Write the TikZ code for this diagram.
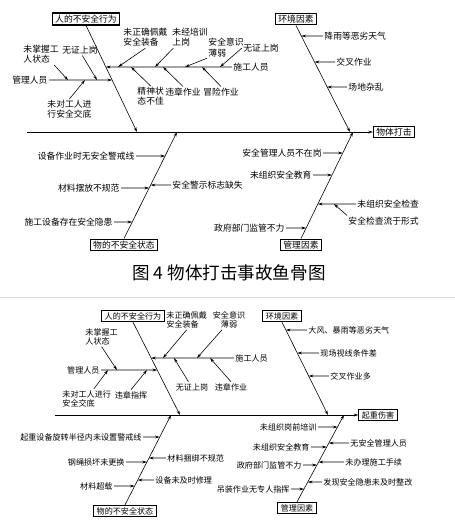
\documentclass[tikz,border=0pt]{standalone}
\usepackage{fontspec}
\setmainfont{Noto Sans CJK SC}
\usetikzlibrary{arrows.meta}

\begin{document}
\begin{tikzpicture}[x=0.03cm, y=-0.03cm, line width=0.5pt,
    font=\fontsize{7.5}{8.6}\selectfont,
    cause/.style={inner sep=1pt},
    multi/.style={inner sep=1pt, align=left},
    headbox/.style={draw, line width=0.9pt, inner xsep=2.5pt, inner ysep=1.6pt},
    arr/.style={-{Stealth[length=4pt, width=2.4pt]}}]
    \useasboundingbox (0,0) rectangle (455,525);

    % ---------- 图4 物体打击 ----------
    \node[headbox] (sp1) at (394,132) {物体打击};
    \coordinate (s1) at (27,132);
    \draw[arr] (s1) -- (sp1.west);

    \node[headbox] (hA) at (86,19) {人的不安全行为};
    \node[headbox] (hB) at (296,19) {环境因素};
    \node[headbox] (hC) at (124,245) {物的不安全状态};
    \node[headbox] (hD) at (301,245) {管理因素};
    \coordinate (bA) at (hA.south);
    \coordinate (bB) at (hB.south);
    \coordinate (bC) at (hC.north);
    \coordinate (bD) at (hD.north);
    \coordinate (eA) at (137,132);
    \coordinate (eB) at (350,132);
    \coordinate (eC) at (177,132);
    \coordinate (eD) at (353,132);
    \draw[arr] (bA) -- (eA);
    \draw[arr] (bB) -- (eB);
    \draw[arr] (bC) -- (eC);
    \draw[arr] (bD) -- (eD);

    % 人的不安全行为: 施工人员
    \node[cause, anchor=west] (sgA) at (232,67) {施工人员};
    \coordinate (jA1) at (intersection of bA--eA and 0,67--1,67);
    \draw[arr] (sgA.west) -- (jA1);
    \node[multi, anchor=north west] (a1) at (122,27) {未正确佩戴\\安全装备};
    \node[multi, anchor=north west] (a2) at (171,27) {未经培训\\上岗};
    \node[multi, anchor=north west] (a3) at (207,37) {安全意识\\薄弱};
    \node[cause] (a4) at (261,48) {无证上岗};
    \node[multi, anchor=north west] (a5) at (136,86) {精神状\\态不佳};
    \node[cause] (a6) at (183,92) {违章作业};
    \node[cause] (a7) at (221,92) {冒险作业};
    \coordinate (ta1) at (118,67);
    \coordinate (ta2) at (155,67);
    \coordinate (ta3) at (185,67);
    \coordinate (ta4) at (220,67);
    \coordinate (ta5) at (131,67);
    \coordinate (ta6) at (163,67);
    \coordinate (ta7) at (202,67);
    \draw[arr] (a1.south) -- (ta1);
    \draw[arr] ([xshift=2pt]a2.south west) -- (ta2);
    \draw[arr] (a3.south west) -- (ta3);
    \draw[arr] (a4.west) -- (ta4);
    \draw[arr] (a5.north) -- (ta5);
    \draw[arr] (a6.north) -- (ta6);
    \draw[arr] (a7.north) -- (ta7);

    % 人的不安全行为: 管理人员
    \node[cause, anchor=east] (mA) at (49,80) {管理人员};
    \coordinate (jA2) at (intersection of bA--eA and 0,80--1,80);
    \draw[arr] (mA.east) -- (jA2);
    \node[multi, anchor=north west] (c1) at (22,44) {未掌握工\\人状态};
    \node[cause] (c2) at (80,50) {无证上岗};
    \node[multi, anchor=north west] (c3) at (46,99) {未对工人进\\行安全交底};
    \coordinate (tc1) at (68,80);
    \coordinate (tc2) at (97,80);
    \coordinate (tc3) at (85,80);
    \draw[arr] ([xshift=-5pt]c1.south east) -- (tc1);
    \draw[arr] ([xshift=2pt]c2.south) -- (tc2);
    \draw[arr] (c3.north) -- (tc3);

    % 环境因素
    \foreach \n/\xx/\yy/\txt in {1/323/36/降雨等恶劣天气, 2/335/62/交叉作业, 3/347/87/场地杂乱}{
      \node[cause, anchor=west] (cB\n) at (\xx,\yy) {\txt};
      \coordinate (tB\n) at (intersection of bB--eB and 0,\yy--1,\yy);
      \draw[arr] (cB\n.west) -- (tB\n);
    }

    % 物的不安全状态
    \foreach \n/\xx/\yy/\txt in {1/136/156/设备作业时无安全警戒线, 2/121/188/材料摆放不规范, 3/114/222/施工设备存在安全隐患}{
      \node[cause, anchor=east] (cC\n) at (\xx,\yy) {\txt};
      \coordinate (tC\n) at (intersection of bC--eC and 0,\yy--1,\yy);
      \draw[arr] (cC\n.east) -- (tC\n);
    }
    \node[cause, anchor=west] (cC4) at (171,185) {安全警示标志缺失};
    \coordinate (tC4) at (intersection of bC--eC and 0,185--1,185);
    \draw[arr] (cC4.west) -- (tC4);

    % 管理因素
    \foreach \n/\xx/\yy/\txt in {1/323/153/安全管理人员不在岗, 2/313/175/未组织安全教育, 3/286/228/政府部门监管不力}{
      \node[cause, anchor=east] (cD\n) at (\xx,\yy) {\txt};
      \coordinate (tD\n) at (intersection of bD--eD and 0,\yy--1,\yy);
      \draw[arr] (cD\n.east) -- (tD\n);
    }
    \node[cause, anchor=west] (cD4) at (356,204) {未组织安全检查};
    \coordinate (tD4) at (intersection of bD--eD and 0,204--1,204);
    \draw[arr] (cD4.west) -- (tD4);
    \node[cause, anchor=west] (cD5) at (347,221) {安全检查流于形式};
    \coordinate (tD5) at (334,204);
    \draw[arr] (cD5.north west) -- (tD5);

    \node[font=\fontsize{15}{18}\selectfont] (cap) at (229,273) {图 4 物体打击事故鱼骨图};

    \draw[gray!30, line width=0.6pt] (0,297) -- (455,297);

    % ---------- 起重伤害 ----------
    \begin{scope}[font=\fontsize{6.9}{8}\selectfont]
    \node[headbox] (sp2) at (378,415) {起重伤害};
    \coordinate (s2) at (55,415);
    \draw[arr] (s2) -- (sp2.west);

    \node[headbox] (hE) at (133,316) {人的不安全行为};
    \node[headbox] (hF) at (282,316) {环境因素};
    \node[headbox] (hG) at (125,511) {物的不安全状态};
    \node[headbox] (hH) at (297,508) {管理因素};
    \coordinate (bE) at (hE.south);
    \coordinate (bF) at (hF.south);
    \coordinate (bG) at (hG.north);
    \coordinate (bH) at (hH.north);
    \coordinate (eE) at (180,415);
    \coordinate (eF) at (328,415);
    \coordinate (eG) at (171,415);
    \coordinate (eH) at (344,415);
    \draw[arr] (bE) -- (eE);
    \draw[arr] (bF) -- (eF);
    \draw[arr] (bG) -- (eG);
    \draw[arr] (bH) -- (eH);

    % 人的不安全行为: 施工人员
    \node[cause, anchor=west] (sgE) at (234,358) {施工人员};
    \coordinate (jE1) at (intersection of bE--eE and 0,358--1,358);
    \draw[arr] (sgE.west) -- (jE1);
    \node[multi, anchor=north west] (e1) at (165,310) {未正确佩戴\\安全装备};
    \node[multi, align=center, anchor=north] (e2) at (229,310) {安全意识\\薄弱};
    \node[cause] (e3) at (192,387) {无证上岗};
    \node[cause] (e4) at (231,387) {违章作业};
    \coordinate (te1) at (163,358);
    \coordinate (te2) at (197,358);
    \coordinate (te3) at (174,358);
    \coordinate (te4) at (210,358);
    \draw[arr] (e1.south) -- (te1);
    \draw[arr] ([xshift=-6pt]e2.south) -- (te2);
    \draw[arr] ([xshift=-3pt]e3.north) -- (te3);
    \draw[arr] (e4.north) -- (te4);

    % 人的不安全行为: 管理人员
    \node[cause, anchor=east] (mE) at (101,370) {管理人员};
    \coordinate (jE2) at (intersection of bE--eE and 0,370--1,370);
    \draw[arr] (mE.east) -- (jE2);
    \node[multi, anchor=north west] (e5) at (84,327) {未掌握工\\人状态};
    \node[multi, anchor=north west] (e6) at (61,389) {未对工人进行\\安全交底};
    \node[cause] (e7) at (131,395) {违章指挥};
    \coordinate (te5) at (117,370);
    \coordinate (te6) at (108,370);
    \coordinate (te7) at (147,370);
    \draw[arr] (e5.south) -- (te5);
    \draw[arr] ([xshift=6pt]e6.north) -- (te6);
    \draw[arr] (e7.north) -- (te7);

    % 环境因素
    \foreach \n/\xx/\yy/\txt in {1/307/330/大风、暴雨等恶劣天气, 2/319/353/现场视线条件差, 3/329/376/交叉作业多}{
      \node[cause, anchor=west] (cF\n) at (\xx,\yy) {\txt};
      \coordinate (tF\n) at (intersection of bF--eF and 0,\yy--1,\yy);
      \draw[arr] (cF\n.west) -- (tF\n);
    }

    % 物的不安全状态
    \foreach \n/\xx/\yy/\txt in {1/143/437/起重设备旋转半径内未设置警戒线, 2/126/462/钢绳损坏未更换, 3/114/486/材料超载}{
      \node[cause, anchor=east] (cG\n) at (\xx,\yy) {\txt};
      \coordinate (tG\n) at (intersection of bG--eG and 0,\yy--1,\yy);
      \draw[arr] (cG\n.east) -- (tG\n);
    }
    \foreach \n/\xx/\yy/\txt in {4/166/458/材料捆绑不规范, 5/154/480/设备未及时修理}{
      \node[cause, anchor=west] (cG\n) at (\xx,\yy) {\txt};
      \coordinate (tG\n) at (intersection of bG--eG and 0,\yy--1,\yy);
      \draw[arr] (cG\n.west) -- (tG\n);
    }

    % 管理因素
    \foreach \n/\xx/\yy/\txt in {1/318/427/未组织岗前培训, 2/311/447/未组织安全教育, 3/303/465/政府部门监管不力, 4/291/489/吊装作业无专人指挥}{
      \node[cause, anchor=east] (cH\n) at (\xx,\yy) {\txt};
      \coordinate (tH\n) at (intersection of bH--eH and 0,\yy--1,\yy);
      \draw[arr] (cH\n.east) -- (tH\n);
    }
    \foreach \n/\xx/\yy/\txt in {5/349/443/无安全管理人员, 6/344/462/未办理施工手续, 7/322/482/发现安全隐患未及时整改}{
      \node[cause, anchor=west] (cH\n) at (\xx,\yy) {\txt};
      \coordinate (tH\n) at (intersection of bH--eH and 0,\yy--1,\yy);
      \draw[arr] (cH\n.west) -- (tH\n);
    }
    \end{scope}
  \end{tikzpicture}
\end{document}
